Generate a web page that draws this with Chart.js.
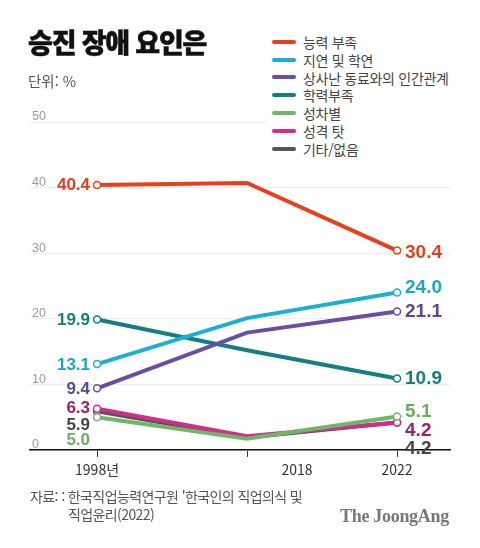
<!DOCTYPE html>
<html lang="ko">
<head>
<meta charset="UTF-8">
<title>승진 장애 요인은</title>
<style>
  body { margin: 0; background: #fff; font-family: "Noto Sans CJK KR", sans-serif; }
  #wrap { position: relative; width: 480px; height: 548px; overflow: hidden; }
  #chartBox { position: absolute; left: 0; top: 0; width: 480px; height: 548px; }
  #title { position: absolute; left: 28px; top: 22px; font-size: 27px; font-weight: 900; letter-spacing: -1.2px; color: #111; -webkit-text-stroke: 0.5px #111; }
  #unit { position: absolute; left: 28px; top: 70px; font-size: 14.5px; color: #555; }
  #legend { position: absolute; left: 266px; top: 31px; width: 200px; background: #fff; padding: 2px 0 4px 6px; }
  .row { height: 17.8px; display: flex; align-items: center; font-size: 14px; color: #444; letter-spacing: -0.3px; }
  .sw { width: 24px; height: 4px; border-radius: 2px; margin-right: 7px; }
  #source { position: absolute; left: 30px; top: 487px; font-size: 14px; color: #555; letter-spacing: -0.6px; line-height: 18px; }
  #source .l2 { padding-left: 38px; }
  #brand { position: absolute; left: 340px; top: 506px; font-family: "Liberation Serif", serif; font-weight: bold; font-size: 18px; color: #777; letter-spacing: -0.3px; }
</style>
<script src="https://cdn.jsdelivr.net/npm/chart.js"></script>
</head>
<body>
<div id="wrap">
  <div id="chartBox"><canvas id="chart"></canvas></div>
  <div id="title">승진 장애 요인은</div>
  <div id="unit">단위: %</div>
  <div id="legend"></div>
  <div id="source">자료: : 한국직업능력연구원 '한국인의 직업의식 및<div class="l2">직업윤리(2022)</div></div>
  <div id="brand">The JoongAng</div>
</div>
<script>
// data
const years = ["1998년", "2018", "2022"];
const seriesNames = ["능력 부족", "지연 및 학연", "상사난 동료와의 인간관계", "학력부족", "성차별", "성격 탓", "기타/없음"];
const ability   = [40.4, 40.7, 30.4];
const connections = [13.1, 20.1, 24.0];
const relations = [9.4, 17.9, 21.1];
const education = [19.9, 15.2, 10.9];
const gender    = [5.0, 1.7, 5.1];
const personality = [6.3, 2.1, 4.2];
const other     = [5.9, 1.9, 4.2];
const yTicks = [0, 10, 20, 30, 40, 50];

// styling
const lineColors  = ["#e8401c", "#1cafd2", "#6a4ea6", "#137f82", "#6db867", "#d42b8c", "#555555"];
const labelColors = ["#e0401f", "#1ba5c8", "#5d4697", "#187b7c", "#6aae5c", "#9a1f6c", "#444444"];
// vertical nudges for the end labels (px)
const leftNudge  = [0, 1, 1, 1, 23, 0, 14];
const rightNudge = [2, -5, 0, 0, -5, 8, 26];

const allSeries = [ability, connections, relations, education, gender, personality, other];

// legend
const legendEl = document.getElementById("legend");
seriesNames.forEach((n, i) => {
  const r = document.createElement("div");
  r.className = "row";
  r.innerHTML = '<span class="sw" style="background:' + lineColors[i] + '"></span>' + n;
  legendEl.appendChild(r);
});

const datasets = allSeries.map((vals, i) => ({
  label: seriesNames[i],
  data: vals.map((v, j) => ({ x: j, y: v })),
  borderColor: lineColors[i],
  borderWidth: 4,
  pointRadius: [3.5, 0, 3.5],
  pointBackgroundColor: "#fff",
  pointBorderColor: lineColors[i],
  pointBorderWidth: 1.5,
  tension: 0
}));

const endLabels = {
  id: "endLabels",
  afterDatasetsDraw(chart) {
    const ctx = chart.ctx;
    ctx.save();
    ctx.textBaseline = "middle";
    chart.data.datasets.forEach((ds, i) => {
      const meta = chart.getDatasetMeta(i);
      const p0 = meta.data[0], p2 = meta.data[2];
      ctx.fillStyle = labelColors[i];
      ctx.font = "bold 17px 'Liberation Sans', Arial, sans-serif";
      ctx.textAlign = "right";
      ctx.fillText(allSeries[i][0].toFixed(1), p0.x - 7, p0.y + leftNudge[i]);
      ctx.font = "bold 19px 'Liberation Sans', Arial, sans-serif";
      ctx.textAlign = "left";
      ctx.fillText(allSeries[i][2].toFixed(1), p2.x + 8, p2.y + rightNudge[i]);
    });
    ctx.restore();
  }
};

// x tick positions: points at 0,1,2; the 2018 label sits a bit right of its tick
const xTickVals = [0, 1, 1.333, 2];
const xTickText = ["1998년", "", "2018", "2022"];

new Chart(document.getElementById("chart"), {
  type: "line",
  data: { datasets },
  options: {
    responsive: true,
    maintainAspectRatio: false,
    animation: false,
    layout: { padding: { left: 30, right: 30, top: 122, bottom: 0 } },
    plugins: { legend: { display: false }, tooltip: { enabled: false } },
    scales: {
      x: {
        type: "linear",
        min: -0.447,
        max: 2.353,
        afterBuildTicks: (s) => { s.ticks = xTickVals.map(v => ({ value: v })); },
        afterFit: (s) => { s.height = 98; },
        ticks: {
          autoSkip: false,
          maxRotation: 0,
          padding: 4,
          color: "#333",
          font: { family: "'Noto Sans CJK KR', sans-serif", size: 14 },
          callback: (v, idx) => xTickText[idx]
        },
        grid: {
          drawOnChartArea: false,
          tickLength: 7,
          tickColor: (c) => c.index === 2 ? "rgba(0,0,0,0)" : "#333",
          tickWidth: 1
        },
        border: { display: true, color: "#111", width: 1.5 }
      },
      y: {
        min: 0,
        max: 50,
        afterBuildTicks: (s) => { s.ticks = yTicks.map(v => ({ value: v })); },
        afterFit: (s) => { s.width = 0; },
        ticks: {
          mirror: true,
          padding: 2,
          labelOffset: -5,
          color: "#999",
          font: { family: "'Liberation Sans', Arial, sans-serif", size: 12.5 }
        },
        grid: { color: "#ececec", lineWidth: 1, drawTicks: false },
        border: { display: false }
      }
    }
  },
  plugins: [endLabels]
});
</script>
</body>
</html>
